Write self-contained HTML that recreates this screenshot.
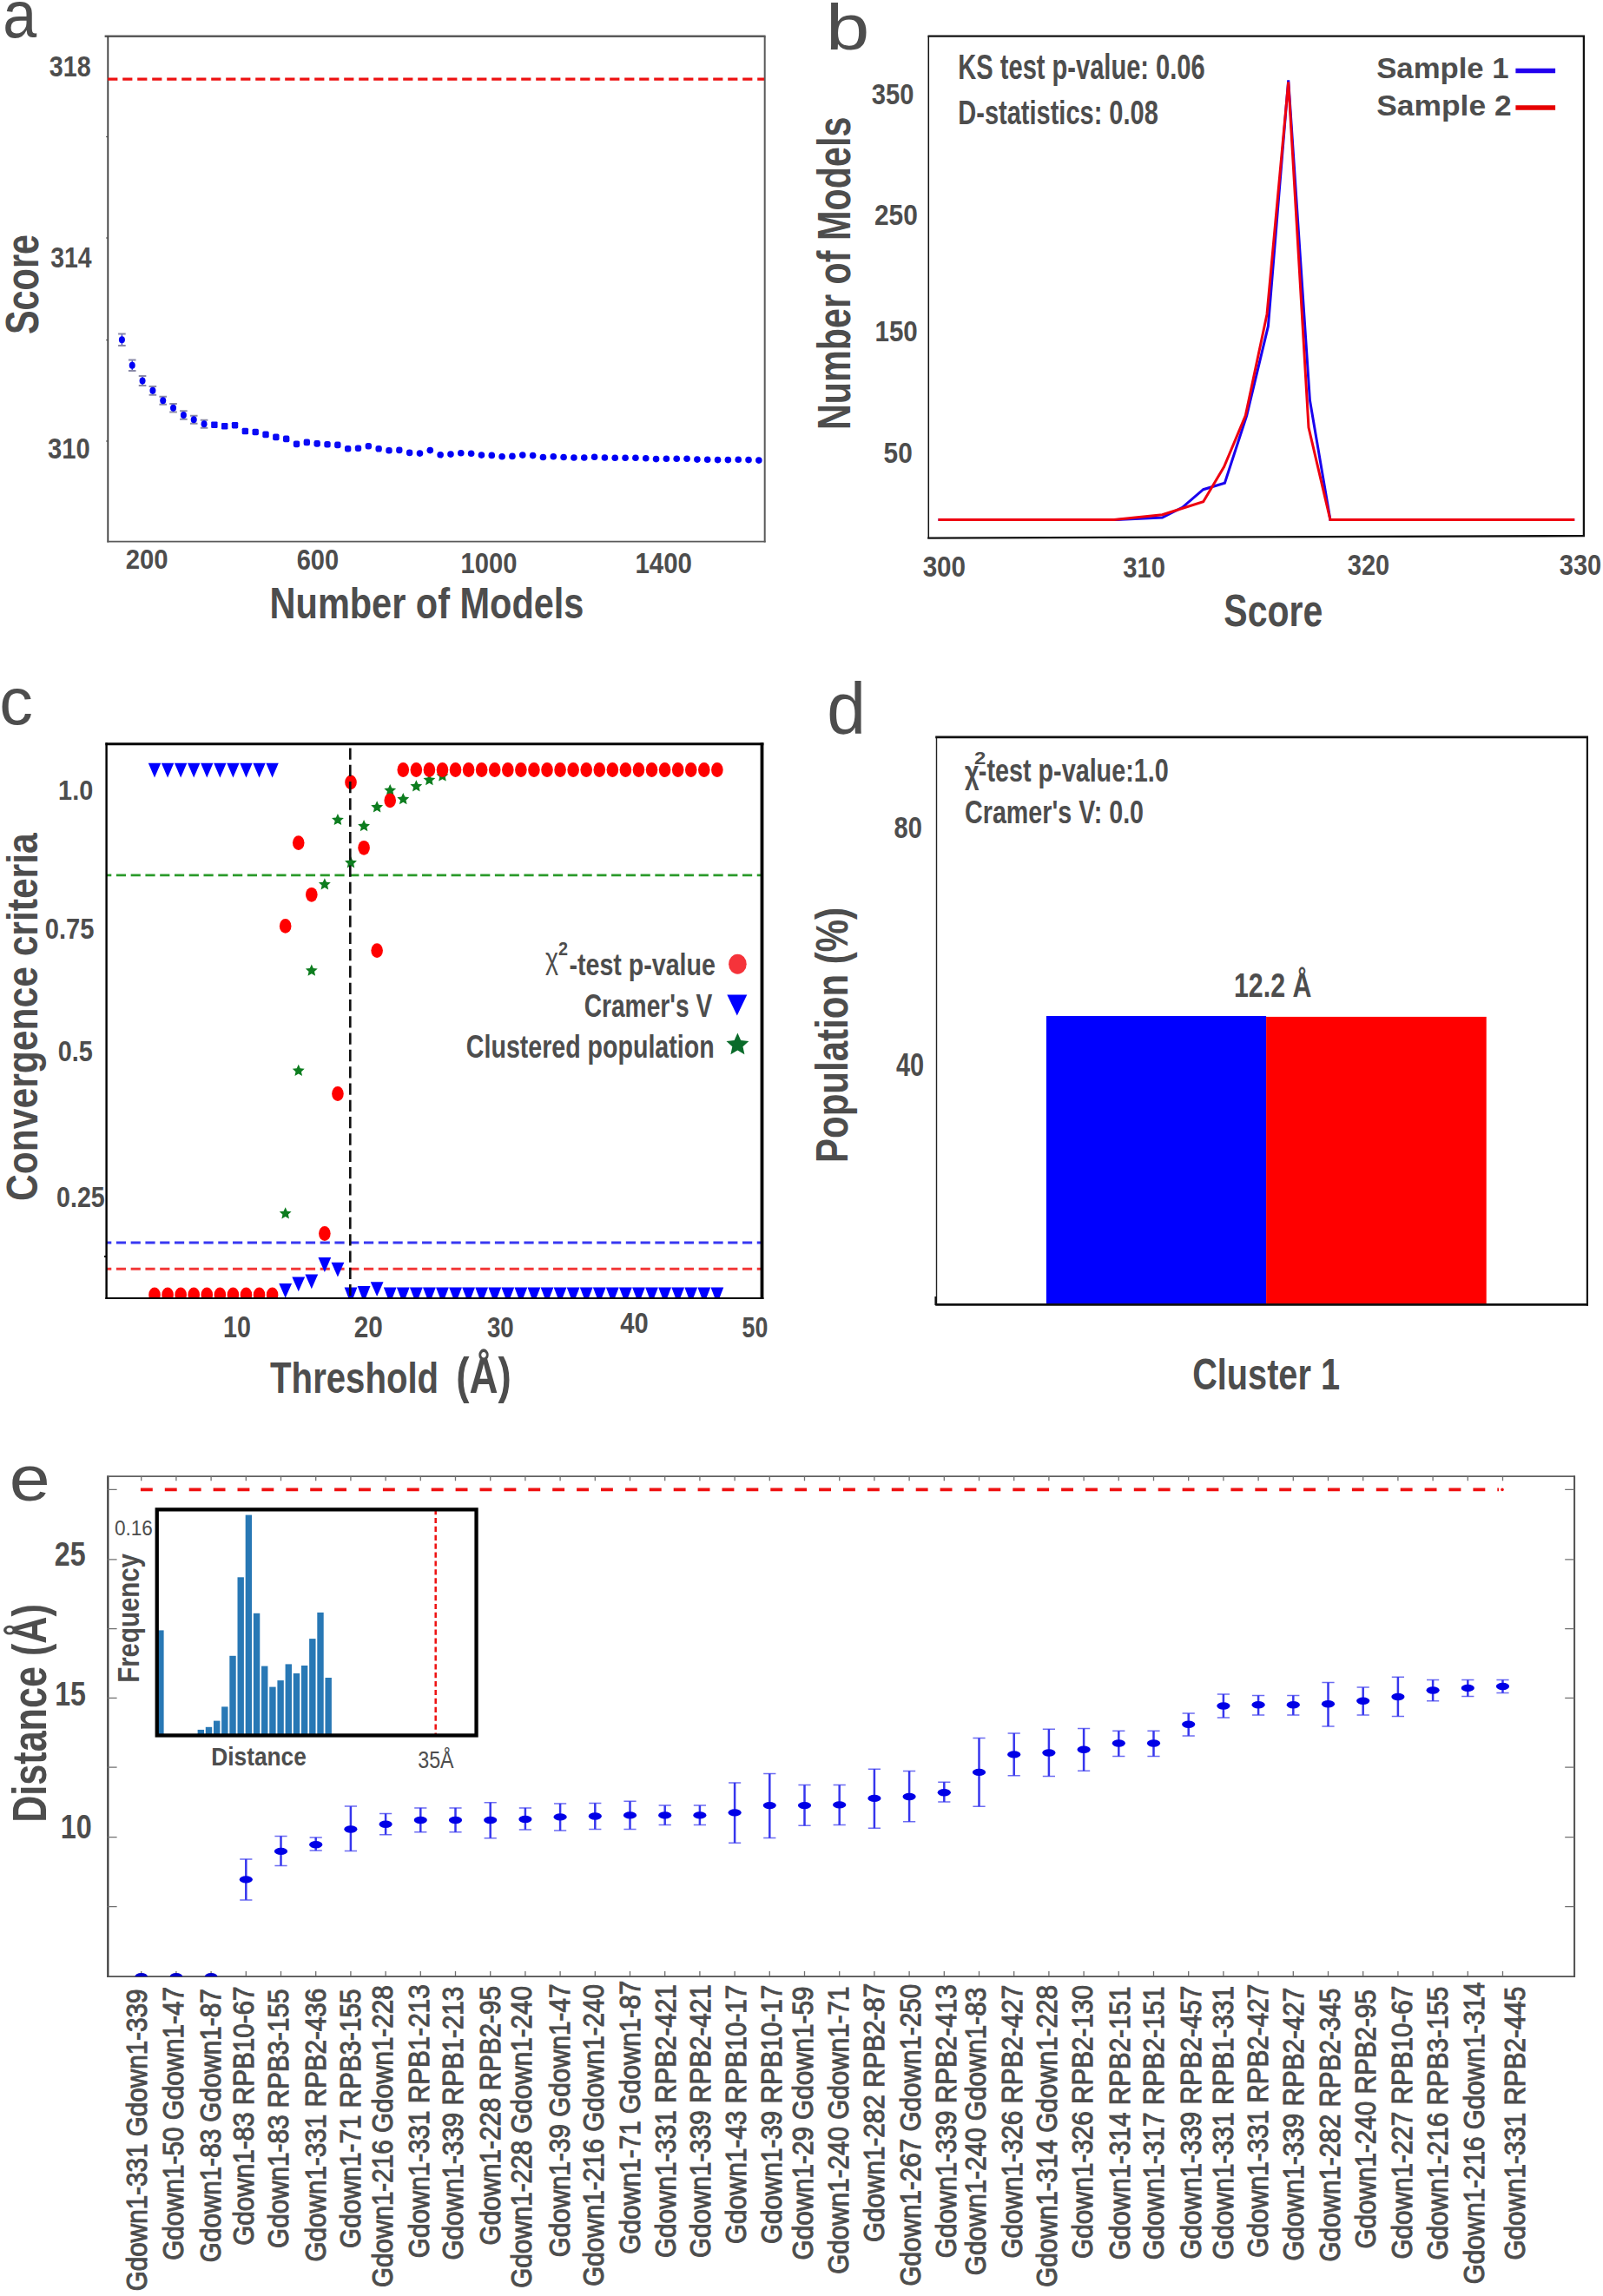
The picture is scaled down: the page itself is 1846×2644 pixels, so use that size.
<!DOCTYPE html>
<html><head><meta charset="utf-8"><title>Figure</title>
<style>
html,body{margin:0;padding:0;background:#fff;}
svg{display:block;}
text{font-family:"Liberation Sans",Arial,sans-serif;}
text.b{font-weight:bold;}
text.r{font-weight:normal;}
</style></head><body>
<svg width="1846" height="2644" viewBox="0 0 1846 2644">
<rect width="1846" height="2644" fill="#fff"/>
<g id="pa">
<line x1="120.6" y1="41.8" x2="881.6" y2="41.8" stroke="#5a5a5a" stroke-width="2.5"/>
<line x1="124.3" y1="41.8" x2="124.3" y2="624.4" stroke="#3a3a3a" stroke-width="1.8"/>
<line x1="123.4" y1="623.6" x2="881.6" y2="623.6" stroke="#5a5a5a" stroke-width="1.8"/>
<line x1="880.7" y1="41.8" x2="880.7" y2="624.4" stroke="#5a5a5a" stroke-width="2"/>
<line x1="122" y1="157.6" x2="124" y2="157.6" stroke="#505050" stroke-width="1"/>
<line x1="122" y1="274" x2="124" y2="274" stroke="#505050" stroke-width="1"/>
<line x1="122" y1="391.6" x2="124" y2="391.6" stroke="#505050" stroke-width="1"/>
<line x1="122" y1="508" x2="124" y2="508" stroke="#505050" stroke-width="1"/>
<line x1="124.2" y1="91.1" x2="880" y2="91.1" stroke="#ee1111" stroke-width="3.4" stroke-dasharray="11.2 5.8"/>
<path d="M140.4 384.4V398" stroke="#3a3ad8" stroke-width="1.4" fill="none"/>
<path d="M136.1 384.4h8.6M136.1 398h8.6" stroke="#8a8aa8" stroke-width="2" fill="none"/>
<ellipse cx="140.4" cy="391.2" rx="3.5" ry="4" fill="#0000f5"/>
<path d="M152.23 414.6V427" stroke="#3a3ad8" stroke-width="1.4" fill="none"/>
<path d="M147.93 414.6h8.6M147.93 427h8.6" stroke="#8a8aa8" stroke-width="2" fill="none"/>
<ellipse cx="152.23" cy="420.8" rx="3.5" ry="4" fill="#0000f5"/>
<path d="M164.06 433.1V444.1" stroke="#3a3ad8" stroke-width="1.4" fill="none"/>
<path d="M159.76 433.1h8.6M159.76 444.1h8.6" stroke="#8a8aa8" stroke-width="2" fill="none"/>
<ellipse cx="164.06" cy="438.6" rx="3.5" ry="4" fill="#0000f5"/>
<path d="M175.89 444.9V454.7" stroke="#3a3ad8" stroke-width="1.4" fill="none"/>
<path d="M171.59 444.9h8.6M171.59 454.7h8.6" stroke="#8a8aa8" stroke-width="2" fill="none"/>
<ellipse cx="175.89" cy="449.8" rx="3.5" ry="4" fill="#0000f5"/>
<path d="M187.72 456.8V465.8" stroke="#3a3ad8" stroke-width="1.4" fill="none"/>
<path d="M183.42 456.8h8.6M183.42 465.8h8.6" stroke="#8a8aa8" stroke-width="2" fill="none"/>
<ellipse cx="187.72" cy="461.3" rx="3.5" ry="4" fill="#0000f5"/>
<path d="M199.55 465.1V474.5" stroke="#3a3ad8" stroke-width="1.4" fill="none"/>
<path d="M195.25 465.1h8.6M195.25 474.5h8.6" stroke="#8a8aa8" stroke-width="2" fill="none"/>
<ellipse cx="199.55" cy="469.8" rx="3.5" ry="4" fill="#0000f5"/>
<path d="M211.38 473.3V482.7" stroke="#3a3ad8" stroke-width="1.4" fill="none"/>
<path d="M207.08 473.3h8.6M207.08 482.7h8.6" stroke="#8a8aa8" stroke-width="2" fill="none"/>
<ellipse cx="211.38" cy="478" rx="3.5" ry="4" fill="#0000f5"/>
<path d="M223.21 478.7V487.7" stroke="#3a3ad8" stroke-width="1.4" fill="none"/>
<path d="M218.91 478.7h8.6M218.91 487.7h8.6" stroke="#8a8aa8" stroke-width="2" fill="none"/>
<ellipse cx="223.21" cy="483.2" rx="3.5" ry="4" fill="#0000f5"/>
<path d="M235.04 483.7V492.7" stroke="#3a3ad8" stroke-width="1.4" fill="none"/>
<path d="M230.74 483.7h8.6M230.74 492.7h8.6" stroke="#8a8aa8" stroke-width="2" fill="none"/>
<ellipse cx="235.04" cy="488.2" rx="3.5" ry="4" fill="#0000f5"/>
<rect x="243.17" y="485.4" width="7.4" height="7.6" rx="1.2" fill="#0a0af5"/>
<rect x="255" y="486.9" width="7.4" height="7.6" rx="1.32" fill="#0a0af5"/>
<rect x="266.83" y="485.9" width="7.4" height="7.6" rx="1.44" fill="#0a0af5"/>
<rect x="278.66" y="492.7" width="7.4" height="7.6" rx="1.56" fill="#0a0af5"/>
<rect x="290.49" y="493.7" width="7.4" height="7.6" rx="1.68" fill="#0a0af5"/>
<rect x="302.32" y="496.6" width="7.4" height="7.6" rx="1.8" fill="#0a0af5"/>
<rect x="314.15" y="499.6" width="7.4" height="7.6" rx="1.92" fill="#0a0af5"/>
<rect x="325.98" y="501.6" width="7.4" height="7.6" rx="2.04" fill="#0a0af5"/>
<rect x="337.81" y="507.6" width="7.4" height="7.6" rx="2.16" fill="#0a0af5"/>
<rect x="349.64" y="505.6" width="7.4" height="7.6" rx="2.28" fill="#0a0af5"/>
<rect x="361.47" y="507.1" width="7.4" height="7.6" rx="2.4" fill="#0a0af5"/>
<rect x="373.3" y="507.9" width="7.4" height="7.6" rx="2.52" fill="#0a0af5"/>
<rect x="385.13" y="508.6" width="7.4" height="7.6" rx="2.64" fill="#0a0af5"/>
<rect x="396.96" y="512.9" width="7.4" height="7.6" rx="2.76" fill="#0a0af5"/>
<rect x="408.79" y="512.4" width="7.4" height="7.6" rx="2.88" fill="#0a0af5"/>
<rect x="420.62" y="509.9" width="7.4" height="7.6" rx="3" fill="#0a0af5"/>
<rect x="432.45" y="512.9" width="7.4" height="7.6" rx="3.12" fill="#0a0af5"/>
<rect x="444.28" y="514.9" width="7.4" height="7.6" rx="3.24" fill="#0a0af5"/>
<rect x="456.11" y="514.6" width="7.4" height="7.6" rx="3.36" fill="#0a0af5"/>
<rect x="467.94" y="517.6" width="7.4" height="7.6" rx="3.48" fill="#0a0af5"/>
<circle cx="483.47" cy="522.1" r="3.8" fill="#0000f5"/>
<circle cx="495.3" cy="518.6" r="3.8" fill="#0000f5"/>
<circle cx="507.13" cy="523.8" r="3.8" fill="#0000f5"/>
<circle cx="518.96" cy="523.1" r="3.8" fill="#0000f5"/>
<circle cx="530.79" cy="521.7" r="3.8" fill="#0000f5"/>
<circle cx="542.62" cy="522.3" r="3.8" fill="#0000f5"/>
<circle cx="554.45" cy="524.1" r="3.8" fill="#0000f5"/>
<circle cx="566.28" cy="524.4" r="3.8" fill="#0000f5"/>
<circle cx="578.11" cy="525.7" r="3.8" fill="#0000f5"/>
<circle cx="589.94" cy="525.4" r="3.8" fill="#0000f5"/>
<circle cx="601.77" cy="524.1" r="3.8" fill="#0000f5"/>
<circle cx="613.6" cy="524.6" r="3.8" fill="#0000f5"/>
<circle cx="625.43" cy="526.5" r="3.8" fill="#0000f5"/>
<circle cx="637.26" cy="525.7" r="3.8" fill="#0000f5"/>
<circle cx="649.09" cy="526.5" r="3.8" fill="#0000f5"/>
<circle cx="660.92" cy="527" r="3.8" fill="#0000f5"/>
<circle cx="672.75" cy="527" r="3.8" fill="#0000f5"/>
<circle cx="684.58" cy="526.2" r="3.8" fill="#0000f5"/>
<circle cx="696.41" cy="527" r="3.8" fill="#0000f5"/>
<circle cx="708.24" cy="527.2" r="3.8" fill="#0000f5"/>
<circle cx="720.07" cy="527.2" r="3.8" fill="#0000f5"/>
<circle cx="731.9" cy="527.2" r="3.8" fill="#0000f5"/>
<circle cx="743.73" cy="527.8" r="3.8" fill="#0000f5"/>
<circle cx="755.56" cy="528.6" r="3.8" fill="#0000f5"/>
<circle cx="767.39" cy="528.3" r="3.8" fill="#0000f5"/>
<circle cx="779.22" cy="528.3" r="3.8" fill="#0000f5"/>
<circle cx="791.05" cy="528.3" r="3.8" fill="#0000f5"/>
<circle cx="802.88" cy="529.1" r="3.8" fill="#0000f5"/>
<circle cx="814.71" cy="529.3" r="3.8" fill="#0000f5"/>
<circle cx="826.54" cy="529.6" r="3.8" fill="#0000f5"/>
<circle cx="838.37" cy="529.6" r="3.8" fill="#0000f5"/>
<circle cx="850.2" cy="529.3" r="3.8" fill="#0000f5"/>
<circle cx="862.03" cy="529.6" r="3.8" fill="#0000f5"/>
<circle cx="873.86" cy="530.1" r="3.8" fill="#0000f5"/>
<text class="r" transform="translate(3.22,43.45) scale(0.9309,1)" font-size="75.25" fill="#4d4d4d">a</text>
<text class="b" transform="translate(56.85,88.4) scale(0.8473,1)" font-size="33.84" fill="#4d4d4d">318</text>
<text class="b" transform="translate(58.16,308) scale(0.8398,1)" font-size="33.84" fill="#4d4d4d">314</text>
<text class="b" transform="translate(55.04,527.6) scale(0.8618,1)" font-size="33.84" fill="#4d4d4d">310</text>
<text class="b" transform="translate(44.4,385.04) rotate(-90) scale(0.7619,1)" font-size="54.34" fill="#4d4d4d">Score</text>
<text class="b" transform="translate(144.67,655) scale(0.9091,1)" font-size="32.26" fill="#4d4d4d">200</text>
<text class="b" transform="translate(341.71,656.2) scale(0.8812,1)" font-size="32.97" fill="#4d4d4d">600</text>
<text class="b" transform="translate(530.58,660.4) scale(0.8893,1)" font-size="32.83" fill="#4d4d4d">1000</text>
<text class="b" transform="translate(731.46,660.4) scale(0.8965,1)" font-size="32.83" fill="#4d4d4d">1400</text>
<text class="b" transform="translate(310.6,711.8) scale(0.8220,1)" font-size="50.48" fill="#4d4d4d">Number of Models</text>
</g>
<g id="pb">
<path d="M1069.3 619.6V41.6" fill="none" stroke="#111" stroke-width="1.5"/>
<path d="M1068.5 41.6H1823.9V617.2" fill="none" stroke="#111" stroke-width="2.3" stroke-linejoin="miter"/>
<path d="M1068.2 619.6L1825 617.1" fill="none" stroke="#111" stroke-width="2.3"/>
<polyline points="1080.5,598.5 1286,598.5 1338.5,596 1361.6,584.3 1385.7,563.7 1410.4,556.3 1435.7,478.6 1460.4,375.7 1483.7,92.4 1508.4,460.8 1531.9,598.5 1813.2,598.5" fill="none" stroke="#1a00ee" stroke-width="3" stroke-linejoin="miter"/>
<polyline points="1080.5,598.5 1283,598.5 1338.5,592.8 1385.7,577.8 1409.6,537.6 1434.3,478.6 1459,362 1483.7,94.3 1507,492.3 1531.9,598.5 1813.2,598.5" fill="none" stroke="#ee0010" stroke-width="3" stroke-linejoin="miter"/>
<line x1="1745.4" y1="81.6" x2="1791.1" y2="81.6" stroke="#2200ee" stroke-width="5.5"/>
<line x1="1745.4" y1="124" x2="1791.1" y2="124" stroke="#e60000" stroke-width="5.5"/>
<text class="r" transform="translate(951.12,56.96) scale(1.2175,1)" font-size="74.29" fill="#4d4d4d">b</text>
<text class="b" transform="translate(1585.16,89.8) scale(1.0626,1)" font-size="32.69" fill="#4d4d4d">Sample 1</text>
<text class="b" transform="translate(1585.14,132.8) scale(1.0926,1)" font-size="32.41" fill="#4d4d4d">Sample 2</text>
<text class="b" transform="translate(1103.34,90.5) scale(0.7244,1)" font-size="40.14" fill="#4d4d4d">KS test p-value: 0.06</text>
<text class="b" transform="translate(1103.34,142.9) scale(0.7484,1)" font-size="38.76" fill="#4d4d4d">D-statistics: 0.08</text>
<text class="b" transform="translate(1003.74,120.2) scale(0.8618,1)" font-size="33.84" fill="#4d4d4d">350</text>
<text class="b" transform="translate(1006.95,259.3) scale(0.8986,1)" font-size="33.26" fill="#4d4d4d">250</text>
<text class="b" transform="translate(1007.45,392.7) scale(0.8707,1)" font-size="33.98" fill="#4d4d4d">150</text>
<text class="b" transform="translate(1017.61,532.9) scale(0.8810,1)" font-size="33.84" fill="#4d4d4d">50</text>
<text class="b" transform="translate(978.8,494.99) rotate(-90) scale(0.7684,1)" font-size="53.79" fill="#4d4d4d">Number of Models</text>
<text class="b" transform="translate(1062.63,663.9) scale(0.8840,1)" font-size="33.55" fill="#4d4d4d">300</text>
<text class="b" transform="translate(1293.34,664.9) scale(0.8748,1)" font-size="33.41" fill="#4d4d4d">310</text>
<text class="b" transform="translate(1551.85,661.6) scale(0.8527,1)" font-size="33.98" fill="#4d4d4d">320</text>
<text class="b" transform="translate(1795.85,661.6) scale(0.8527,1)" font-size="33.98" fill="#4d4d4d">330</text>
<text class="b" transform="translate(1409.37,720.8) scale(0.7899,1)" font-size="51.9" fill="#4d4d4d">Score</text>
</g>
<g id="pc">
<clipPath id="cc"><rect x="122.6" y="856.7" width="755" height="638.3"/></clipPath>
<g clip-path="url(#cc)">
<line x1="117.1" y1="1007.9" x2="877.5" y2="1007.9" stroke="#2a9a2a" stroke-width="2.6" stroke-dasharray="11.2 5.57"/>
<line x1="117.1" y1="1431" x2="877.5" y2="1431" stroke="#3838f2" stroke-width="2.9" stroke-dasharray="11.2 5.57"/>
<line x1="117.1" y1="1461.2" x2="877.5" y2="1461.2" stroke="#f23838" stroke-width="2.9" stroke-dasharray="11.2 5.57"/>
<polygon points="328.67,1390.2 330.69,1394.72 335.61,1395.24 331.93,1398.56 332.96,1403.41 328.67,1400.93 324.38,1403.41 325.41,1398.56 321.73,1395.24 326.65,1394.72" fill="#0d7d1f"/>
<polygon points="343.74,1225.8 345.75,1230.32 350.68,1230.84 347,1234.16 348.03,1239.01 343.74,1236.53 339.45,1239.01 340.47,1234.16 336.79,1230.84 341.72,1230.32" fill="#0d7d1f"/>
<polygon points="358.8,1110.5 360.82,1115.02 365.75,1115.54 362.07,1118.86 363.09,1123.71 358.8,1121.23 354.51,1123.71 355.54,1118.86 351.86,1115.54 356.79,1115.02" fill="#0d7d1f"/>
<polygon points="373.87,1011.2 375.89,1015.72 380.81,1016.24 377.13,1019.56 378.16,1024.41 373.87,1021.93 369.58,1024.41 370.61,1019.56 366.93,1016.24 371.85,1015.72" fill="#0d7d1f"/>
<polygon points="388.94,936.9 390.95,941.42 395.88,941.94 392.2,945.26 393.23,950.11 388.94,947.63 384.65,950.11 385.67,945.26 382,941.94 386.92,941.42" fill="#0d7d1f"/>
<polygon points="404,986.3 406.02,990.82 410.95,991.34 407.27,994.66 408.3,999.51 404,997.03 399.71,999.51 400.74,994.66 397.06,991.34 401.99,990.82" fill="#0d7d1f"/>
<polygon points="419.07,944.1 421.09,948.62 426.01,949.14 422.34,952.46 423.36,957.31 419.07,954.83 414.78,957.31 415.81,952.46 412.13,949.14 417.06,948.62" fill="#0d7d1f"/>
<polygon points="434.14,922.3 436.16,926.82 441.08,927.34 437.4,930.66 438.43,935.51 434.14,933.03 429.85,935.51 430.88,930.66 427.2,927.34 432.12,926.82" fill="#0d7d1f"/>
<polygon points="449.21,903 451.22,907.52 456.15,908.04 452.47,911.36 453.5,916.21 449.21,913.73 444.92,916.21 445.94,911.36 442.26,908.04 447.19,907.52" fill="#0d7d1f"/>
<polygon points="464.27,913.1 466.29,917.62 471.22,918.14 467.54,921.46 468.56,926.31 464.27,923.83 459.98,926.31 461.01,921.46 457.33,918.14 462.26,917.62" fill="#0d7d1f"/>
<polygon points="479.34,898.2 481.36,902.72 486.28,903.24 482.6,906.56 483.63,911.41 479.34,908.93 475.05,911.41 476.08,906.56 472.4,903.24 477.32,902.72" fill="#0d7d1f"/>
<polygon points="494.41,891 496.42,895.52 501.35,896.04 497.67,899.36 498.7,904.21 494.41,901.73 490.12,904.21 491.14,899.36 487.46,896.04 492.39,895.52" fill="#0d7d1f"/>
<polygon points="509.47,886.4 511.49,890.92 516.42,891.44 512.74,894.76 513.76,899.61 509.47,897.13 505.18,899.61 506.21,894.76 502.53,891.44 507.46,890.92" fill="#0d7d1f"/>
<ellipse cx="178" cy="1490.9" rx="6.8" ry="8.4" fill="#ff0000"/>
<ellipse cx="193.07" cy="1490.9" rx="6.8" ry="8.4" fill="#ff0000"/>
<ellipse cx="208.13" cy="1490.9" rx="6.8" ry="8.4" fill="#ff0000"/>
<ellipse cx="223.2" cy="1490.9" rx="6.8" ry="8.4" fill="#ff0000"/>
<ellipse cx="238.27" cy="1490.9" rx="6.8" ry="8.4" fill="#ff0000"/>
<ellipse cx="253.34" cy="1490.9" rx="6.8" ry="8.4" fill="#ff0000"/>
<ellipse cx="268.4" cy="1490.9" rx="6.8" ry="8.4" fill="#ff0000"/>
<ellipse cx="283.47" cy="1490.9" rx="6.8" ry="8.4" fill="#ff0000"/>
<ellipse cx="298.54" cy="1490.9" rx="6.8" ry="8.4" fill="#ff0000"/>
<ellipse cx="313.6" cy="1490.9" rx="6.8" ry="8.4" fill="#ff0000"/>
<ellipse cx="328.67" cy="1066.4" rx="6.8" ry="8.4" fill="#ff0000"/>
<ellipse cx="343.74" cy="970.6" rx="6.8" ry="8.4" fill="#ff0000"/>
<ellipse cx="358.8" cy="1030.3" rx="6.8" ry="8.4" fill="#ff0000"/>
<ellipse cx="373.87" cy="1420.5" rx="6.8" ry="8.4" fill="#ff0000"/>
<ellipse cx="388.94" cy="1259.5" rx="6.8" ry="8.4" fill="#ff0000"/>
<ellipse cx="404" cy="900.9" rx="6.8" ry="8.4" fill="#ff0000"/>
<ellipse cx="419.07" cy="976.3" rx="6.8" ry="8.4" fill="#ff0000"/>
<ellipse cx="434.14" cy="1094.6" rx="6.8" ry="8.4" fill="#ff0000"/>
<ellipse cx="449.21" cy="921.8" rx="6.8" ry="8.4" fill="#ff0000"/>
<ellipse cx="464.27" cy="886.5" rx="6.8" ry="8.4" fill="#ff0000"/>
<ellipse cx="479.34" cy="886.5" rx="6.8" ry="8.4" fill="#ff0000"/>
<ellipse cx="494.41" cy="886.5" rx="6.8" ry="8.4" fill="#ff0000"/>
<ellipse cx="509.47" cy="886.5" rx="6.8" ry="8.4" fill="#ff0000"/>
<ellipse cx="524.54" cy="886.5" rx="6.8" ry="8.4" fill="#ff0000"/>
<ellipse cx="539.61" cy="886.5" rx="6.8" ry="8.4" fill="#ff0000"/>
<ellipse cx="554.67" cy="886.5" rx="6.8" ry="8.4" fill="#ff0000"/>
<ellipse cx="569.74" cy="886.5" rx="6.8" ry="8.4" fill="#ff0000"/>
<ellipse cx="584.81" cy="886.5" rx="6.8" ry="8.4" fill="#ff0000"/>
<ellipse cx="599.88" cy="886.5" rx="6.8" ry="8.4" fill="#ff0000"/>
<ellipse cx="614.94" cy="886.5" rx="6.8" ry="8.4" fill="#ff0000"/>
<ellipse cx="630.01" cy="886.5" rx="6.8" ry="8.4" fill="#ff0000"/>
<ellipse cx="645.08" cy="886.5" rx="6.8" ry="8.4" fill="#ff0000"/>
<ellipse cx="660.14" cy="886.5" rx="6.8" ry="8.4" fill="#ff0000"/>
<ellipse cx="675.21" cy="886.5" rx="6.8" ry="8.4" fill="#ff0000"/>
<ellipse cx="690.28" cy="886.5" rx="6.8" ry="8.4" fill="#ff0000"/>
<ellipse cx="705.35" cy="886.5" rx="6.8" ry="8.4" fill="#ff0000"/>
<ellipse cx="720.41" cy="886.5" rx="6.8" ry="8.4" fill="#ff0000"/>
<ellipse cx="735.48" cy="886.5" rx="6.8" ry="8.4" fill="#ff0000"/>
<ellipse cx="750.55" cy="886.5" rx="6.8" ry="8.4" fill="#ff0000"/>
<ellipse cx="765.61" cy="886.5" rx="6.8" ry="8.4" fill="#ff0000"/>
<ellipse cx="780.68" cy="886.5" rx="6.8" ry="8.4" fill="#ff0000"/>
<ellipse cx="795.75" cy="886.5" rx="6.8" ry="8.4" fill="#ff0000"/>
<ellipse cx="810.81" cy="886.5" rx="6.8" ry="8.4" fill="#ff0000"/>
<ellipse cx="825.88" cy="886.5" rx="6.8" ry="8.4" fill="#ff0000"/>
<path d="M170.8 878.8h14.4l-7.2 16.6z" fill="#0000ff"/>
<path d="M185.87 878.8h14.4l-7.2 16.6z" fill="#0000ff"/>
<path d="M200.93 878.8h14.4l-7.2 16.6z" fill="#0000ff"/>
<path d="M216 878.8h14.4l-7.2 16.6z" fill="#0000ff"/>
<path d="M231.07 878.8h14.4l-7.2 16.6z" fill="#0000ff"/>
<path d="M246.14 878.8h14.4l-7.2 16.6z" fill="#0000ff"/>
<path d="M261.2 878.8h14.4l-7.2 16.6z" fill="#0000ff"/>
<path d="M276.27 878.8h14.4l-7.2 16.6z" fill="#0000ff"/>
<path d="M291.34 878.8h14.4l-7.2 16.6z" fill="#0000ff"/>
<path d="M306.4 878.8h14.4l-7.2 16.6z" fill="#0000ff"/>
<path d="M321.27 1478h14.8l-7.4 16.8z" fill="#0000ff"/>
<path d="M336.34 1470.5h14.8l-7.4 16.8z" fill="#0000ff"/>
<path d="M351.4 1467.4h14.8l-7.4 16.8z" fill="#0000ff"/>
<path d="M366.47 1448.1h14.8l-7.4 16.8z" fill="#0000ff"/>
<path d="M381.54 1453.7h14.8l-7.4 16.8z" fill="#0000ff"/>
<path d="M396.61 1482.6h14.8l-7.4 19z" fill="#0000ff"/>
<path d="M411.67 1481h14.8l-7.4 19z" fill="#0000ff"/>
<path d="M426.74 1476.3h14.8l-7.4 16.8z" fill="#0000ff"/>
<path d="M441.81 1482.6h14.8l-7.4 19z" fill="#0000ff"/>
<path d="M456.87 1482.6h14.8l-7.4 19z" fill="#0000ff"/>
<path d="M471.94 1482.6h14.8l-7.4 19z" fill="#0000ff"/>
<path d="M487.01 1482.6h14.8l-7.4 19z" fill="#0000ff"/>
<path d="M502.07 1482.6h14.8l-7.4 19z" fill="#0000ff"/>
<path d="M517.14 1482.6h14.8l-7.4 19z" fill="#0000ff"/>
<path d="M532.21 1482.6h14.8l-7.4 19z" fill="#0000ff"/>
<path d="M547.27 1482.6h14.8l-7.4 19z" fill="#0000ff"/>
<path d="M562.34 1482.6h14.8l-7.4 19z" fill="#0000ff"/>
<path d="M577.41 1482.6h14.8l-7.4 19z" fill="#0000ff"/>
<path d="M592.48 1482.6h14.8l-7.4 19z" fill="#0000ff"/>
<path d="M607.54 1482.6h14.8l-7.4 19z" fill="#0000ff"/>
<path d="M622.61 1482.6h14.8l-7.4 19z" fill="#0000ff"/>
<path d="M637.68 1482.6h14.8l-7.4 19z" fill="#0000ff"/>
<path d="M652.74 1482.6h14.8l-7.4 19z" fill="#0000ff"/>
<path d="M667.81 1482.6h14.8l-7.4 19z" fill="#0000ff"/>
<path d="M682.88 1482.6h14.8l-7.4 19z" fill="#0000ff"/>
<path d="M697.95 1482.6h14.8l-7.4 19z" fill="#0000ff"/>
<path d="M713.01 1482.6h14.8l-7.4 19z" fill="#0000ff"/>
<path d="M728.08 1482.6h14.8l-7.4 19z" fill="#0000ff"/>
<path d="M743.15 1482.6h14.8l-7.4 19z" fill="#0000ff"/>
<path d="M758.21 1482.6h14.8l-7.4 19z" fill="#0000ff"/>
<path d="M773.28 1482.6h14.8l-7.4 19z" fill="#0000ff"/>
<path d="M788.35 1482.6h14.8l-7.4 19z" fill="#0000ff"/>
<path d="M803.41 1482.6h14.8l-7.4 19z" fill="#0000ff"/>
<path d="M818.48 1482.6h14.8l-7.4 19z" fill="#0000ff"/>
<line x1="403.3" y1="861.45" x2="403.3" y2="1495" stroke="#111" stroke-width="2.6" stroke-dasharray="13.3 6"/>
</g>
<line x1="122.6" y1="855.3" x2="122.6" y2="1496" stroke="#000" stroke-width="2.4"/>
<line x1="121.4" y1="1495" x2="879.4" y2="1495" stroke="#000" stroke-width="2"/>
<line x1="121.4" y1="856.8" x2="879.4" y2="856.8" stroke="#000" stroke-width="3"/>
<line x1="877.5" y1="855.3" x2="877.5" y2="1496" stroke="#000" stroke-width="3.8"/>
<line x1="120" y1="1446.9" x2="122.6" y2="1446.9" stroke="#000" stroke-width="2"/>
<ellipse cx="849.4" cy="1110.2" rx="10.3" ry="11.5" fill="#f5333a"/>
<path d="M837.3 1145.5h23l-11.5 24z" fill="#0000ff"/>
<polygon points="849.4,1189.6 853.16,1198.03 862.33,1199 855.48,1205.18 857.39,1214.2 849.4,1209.59 841.41,1214.2 843.32,1205.18 836.47,1199 845.64,1198.03" fill="#0a6b2a"/>
<text class="r" transform="translate(-0.68,833.93) scale(1.0041,1)" font-size="76.89" fill="#4d4d4d">c</text>
<text class="b" transform="translate(67.1,920.8) scale(0.9054,1)" font-size="31.83" fill="#4d4d4d">1.0</text>
<text class="b" transform="translate(51.83,1080.8) scale(0.8759,1)" font-size="33.26" fill="#4d4d4d">0.75</text>
<text class="b" transform="translate(66.75,1222.2) scale(0.8661,1)" font-size="33.26" fill="#4d4d4d">0.5</text>
<text class="b" transform="translate(65.06,1389.5) scale(0.8599,1)" font-size="33.26" fill="#4d4d4d">0.25</text>
<text class="b" transform="translate(43,1382.9) rotate(-90) scale(0.8650,1)" font-size="49.24" fill="#4d4d4d">Convergence criteria</text>
<text class="b" transform="translate(257.11,1540) scale(0.8337,1)" font-size="34.41" fill="#4d4d4d">10</text>
<text class="b" transform="translate(407.66,1540) scale(0.8649,1)" font-size="34.41" fill="#4d4d4d">20</text>
<text class="b" transform="translate(560.88,1539.5) scale(0.8217,1)" font-size="33.69" fill="#4d4d4d">30</text>
<text class="b" transform="translate(714.36,1535.4) scale(0.8637,1)" font-size="33.69" fill="#4d4d4d">40</text>
<text class="b" transform="translate(854.6,1539.7) scale(0.7934,1)" font-size="33.69" fill="#4d4d4d">50</text>
<text class="b" transform="translate(311.1,1604.2) scale(0.7953,1)" font-size="50.48" fill="#4d4d4d">Threshold</text>
<text class="b" transform="translate(525.21,1603.7) scale(0.8042,1)" font-size="56.88" fill="#4d4d4d">(Å)</text>
<text class="r" transform="translate(628.11,1116.37) scale(0.8114,1)" font-size="35.32" fill="#4d4d4d">χ</text>
<text class="b" transform="translate(642.91,1100.2) scale(0.8737,1)" font-size="22.65" fill="#4d4d4d">2</text>
<text class="b" transform="translate(655.46,1122.6) scale(0.8197,1)" font-size="34.9" fill="#4d4d4d">-test p-value</text>
<text class="b" transform="translate(672.67,1170.5) scale(0.7440,1)" font-size="37.85" fill="#4d4d4d">Cramer's V</text>
<text class="b" transform="translate(536.86,1217.8) scale(0.7762,1)" font-size="36.83" fill="#4d4d4d">Clustered population</text>
</g>
<g id="pd">
<rect x="1204.9" y="1170" width="253.2" height="332" fill="#0000ff"/>
<rect x="1458.1" y="1170.9" width="253.6" height="331.3" fill="#ff0000"/>
<line x1="1078.5" y1="848.9" x2="1078.5" y2="1503" stroke="#222" stroke-width="1.4"/>
<line x1="1077.2" y1="848.9" x2="1829" y2="848.9" stroke="#111" stroke-width="2.8"/>
<line x1="1827.9" y1="848.9" x2="1827.9" y2="1503.5" stroke="#111" stroke-width="2.2"/>
<line x1="1077.2" y1="1502.4" x2="1829" y2="1502.4" stroke="#111" stroke-width="2.8"/>
<line x1="1077.6" y1="1493" x2="1077.6" y2="1503" stroke="#111" stroke-width="2.4"/>
<text class="r" transform="translate(952.18,844.97) scale(0.9645,1)" font-size="83.4" fill="#4d4d4d">d</text>
<text class="b" transform="translate(1111.09,901.55) scale(0.7866,1)" font-size="36.39" fill="#4d4d4d">χ</text>
<text class="b" transform="translate(1121.96,880.4) scale(1.1686,1)" font-size="20.5" fill="#4d4d4d">2</text>
<text class="b" transform="translate(1126.85,899.9) scale(0.7837,1)" font-size="36.69" fill="#4d4d4d">-test p-value:1.0</text>
<text class="b" transform="translate(1111.05,947.9) scale(0.7725,1)" font-size="37.13" fill="#4d4d4d">Cramer's V: 0.0</text>
<text class="b" transform="translate(1029.45,965.1) scale(0.8321,1)" font-size="34.98" fill="#4d4d4d">80</text>
<text class="b" transform="translate(1031.97,1238.7) scale(0.7816,1)" font-size="36.99" fill="#4d4d4d">40</text>
<text class="b" transform="translate(975.7,1339.04) rotate(-90) scale(0.8148,1)" font-size="51.59" fill="#4d4d4d">Population (%)</text>
<text class="b" transform="translate(1421,1147.8) scale(0.7784,1)" font-size="38.98" fill="#4d4d4d">12.2 Å</text>
<text class="b" transform="translate(1373.21,1599.5) scale(0.7815,1)" font-size="50.76" fill="#4d4d4d">Cluster 1</text>
</g>
<g id="pe">
<line x1="124.3" y1="1699.4" x2="124.3" y2="2277" stroke="#3a3a3a" stroke-width="2.2"/>
<line x1="123.2" y1="1700.2" x2="1814" y2="1700.2" stroke="#606060" stroke-width="1.7"/>
<line x1="123.2" y1="2276.2" x2="1814" y2="2276.2" stroke="#505050" stroke-width="1.8"/>
<line x1="1813.1" y1="1699.4" x2="1813.1" y2="2277" stroke="#505050" stroke-width="2"/>
<path d="M162.7 1700.3v5M162.7 2276.1v-6M202.9 1700.3v5M202.9 2276.1v-6M243.1 1700.3v5M243.1 2276.1v-6M283.3 1700.3v5M283.3 2276.1v-6M323.5 1700.3v5M323.5 2276.1v-6M363.7 1700.3v5M363.7 2276.1v-6M403.9 1700.3v5M403.9 2276.1v-6M444.1 1700.3v5M444.1 2276.1v-6M484.3 1700.3v5M484.3 2276.1v-6M524.5 1700.3v5M524.5 2276.1v-6M564.7 1700.3v5M564.7 2276.1v-6M604.9 1700.3v5M604.9 2276.1v-6M645.1 1700.3v5M645.1 2276.1v-6M685.3 1700.3v5M685.3 2276.1v-6M725.5 1700.3v5M725.5 2276.1v-6M765.7 1700.3v5M765.7 2276.1v-6M805.9 1700.3v5M805.9 2276.1v-6M846.1 1700.3v5M846.1 2276.1v-6M886.3 1700.3v5M886.3 2276.1v-6M926.5 1700.3v5M926.5 2276.1v-6M966.7 1700.3v5M966.7 2276.1v-6M1006.9 1700.3v5M1006.9 2276.1v-6M1047.1 1700.3v5M1047.1 2276.1v-6M1087.3 1700.3v5M1087.3 2276.1v-6M1127.5 1700.3v5M1127.5 2276.1v-6M1167.7 1700.3v5M1167.7 2276.1v-6M1207.9 1700.3v5M1207.9 2276.1v-6M1248.1 1700.3v5M1248.1 2276.1v-6M1288.3 1700.3v5M1288.3 2276.1v-6M1328.5 1700.3v5M1328.5 2276.1v-6M1368.7 1700.3v5M1368.7 2276.1v-6M1408.9 1700.3v5M1408.9 2276.1v-6M1449.1 1700.3v5M1449.1 2276.1v-6M1489.3 1700.3v5M1489.3 2276.1v-6M1529.5 1700.3v5M1529.5 2276.1v-6M1569.7 1700.3v5M1569.7 2276.1v-6M1609.9 1700.3v5M1609.9 2276.1v-6M1650.1 1700.3v5M1650.1 2276.1v-6M1690.3 1700.3v5M1690.3 2276.1v-6M1730.5 1700.3v5M1730.5 2276.1v-6M123.6 1715.4h11M1813.2 1715.4h-11M123.6 1795.8h11M1813.2 1795.8h-11M123.6 1875.6h11M1813.2 1875.6h-11M123.6 1955.4h11M1813.2 1955.4h-11M123.6 2035.1h11M1813.2 2035.1h-11M123.6 2115.6h11M1813.2 2115.6h-11M123.6 2195.6h11M1813.2 2195.6h-11" stroke="#707070" stroke-width="1.3" fill="none"/>
<path d="M161.9 1715.4H1726" stroke="#ee1111" stroke-width="3.9" stroke-dasharray="13.9 14" fill="none"/>
<circle cx="1730" cy="1715.4" r="1.8" fill="#ee1111"/>
<rect x="181" y="1877.4" width="7.6" height="121" fill="#2878b5"/>
<rect x="227.6" y="1991.9" width="7.4" height="6.6" fill="#2878b5"/>
<rect x="236.78" y="1988.8" width="7.4" height="9.7" fill="#2878b5"/>
<rect x="245.96" y="1981.6" width="7.4" height="16.9" fill="#2878b5"/>
<rect x="255.14" y="1965.4" width="7.4" height="33.1" fill="#2878b5"/>
<rect x="264.32" y="1906.8" width="7.4" height="91.7" fill="#2878b5"/>
<rect x="273.5" y="1816.3" width="7.4" height="182.2" fill="#2878b5"/>
<rect x="282.68" y="1744.6" width="7.4" height="253.9" fill="#2878b5"/>
<rect x="291.86" y="1857.8" width="7.4" height="140.7" fill="#2878b5"/>
<rect x="301.04" y="1918.6" width="7.4" height="79.9" fill="#2878b5"/>
<rect x="310.22" y="1942.6" width="7.4" height="55.9" fill="#2878b5"/>
<rect x="319.4" y="1935.1" width="7.4" height="63.4" fill="#2878b5"/>
<rect x="328.58" y="1916.4" width="7.4" height="82.1" fill="#2878b5"/>
<rect x="337.76" y="1927" width="7.4" height="71.5" fill="#2878b5"/>
<rect x="346.94" y="1918" width="7.4" height="80.5" fill="#2878b5"/>
<rect x="356.12" y="1887.1" width="7.4" height="111.4" fill="#2878b5"/>
<rect x="365.3" y="1856.9" width="7.4" height="141.6" fill="#2878b5"/>
<rect x="374.48" y="1932" width="7.4" height="66.5" fill="#2878b5"/>
<line x1="501.7" y1="1738" x2="501.7" y2="1998" stroke="#ee1111" stroke-width="2.5" stroke-dasharray="6.2 3.7"/>
<rect x="180.75" y="1738.35" width="367.8" height="260.1" fill="none" stroke="#000" stroke-width="4.3"/>
<text class="r" transform="translate(131.9,1768) scale(0.9329,1)" font-size="24.23" fill="#4d4d4d">0.16</text>
<text class="b" transform="translate(159.9,1937.79) rotate(-90) scale(0.8428,1)" font-size="34.91" fill="#4d4d4d">Frequency</text>
<text class="b" transform="translate(243.22,2032.5) scale(0.8996,1)" font-size="29.24" fill="#4d4d4d">Distance</text>
<text class="r" transform="translate(481.23,2035.6) scale(0.8255,1)" font-size="28.19" fill="#4d4d4d">35Å</text>
<clipPath id="ce"><rect x="100" y="1690" width="1740" height="586.1"/></clipPath>
<g clip-path="url(#ce)">
<ellipse cx="162.7" cy="2276.6" rx="7.4" ry="4.6" fill="#0000cc"/>
<ellipse cx="202.9" cy="2276.6" rx="7.4" ry="4.6" fill="#0000cc"/>
<ellipse cx="243.1" cy="2276.6" rx="7.4" ry="4.6" fill="#0000cc"/>
</g>
<path d="M276.2 2140.9h14.2M276.2 2187.9h14.2" stroke="#6c6cf2" stroke-width="1.5" fill="none"/>
<path d="M283.3 2140.9V2187.9" stroke="#3636ee" stroke-width="2.5" fill="none"/>
<ellipse cx="283.3" cy="2164.4" rx="7.6" ry="4.2" fill="#0000e6"/>
<path d="M316.4 2114.5h14.2M316.4 2148.5h14.2" stroke="#6c6cf2" stroke-width="1.5" fill="none"/>
<path d="M323.5 2114.5V2148.5" stroke="#3636ee" stroke-width="2.5" fill="none"/>
<ellipse cx="323.5" cy="2131.9" rx="7.6" ry="4.2" fill="#0000e6"/>
<path d="M356.6 2115.9h14.2M356.6 2131.1h14.2" stroke="#6c6cf2" stroke-width="1.5" fill="none"/>
<path d="M363.7 2115.9V2131.1" stroke="#3636ee" stroke-width="2.5" fill="none"/>
<ellipse cx="363.7" cy="2124.3" rx="7.6" ry="4.2" fill="#0000e6"/>
<path d="M396.8 2080.1h14.2M396.8 2131.5h14.2" stroke="#6c6cf2" stroke-width="1.5" fill="none"/>
<path d="M403.9 2080.1V2131.5" stroke="#3636ee" stroke-width="2.5" fill="none"/>
<ellipse cx="403.9" cy="2106.5" rx="7.6" ry="4.2" fill="#0000e6"/>
<path d="M437 2088.4h14.2M437 2112.7h14.2" stroke="#6c6cf2" stroke-width="1.5" fill="none"/>
<path d="M444.1 2088.4V2112.7" stroke="#3636ee" stroke-width="2.5" fill="none"/>
<ellipse cx="444.1" cy="2100.7" rx="7.6" ry="4.2" fill="#0000e6"/>
<path d="M477.2 2081.9h14.2M477.2 2109.8h14.2" stroke="#6c6cf2" stroke-width="1.5" fill="none"/>
<path d="M484.3 2081.9V2109.8" stroke="#3636ee" stroke-width="2.5" fill="none"/>
<ellipse cx="484.3" cy="2096" rx="7.6" ry="4.2" fill="#0000e6"/>
<path d="M517.4 2081.9h14.2M517.4 2109.8h14.2" stroke="#6c6cf2" stroke-width="1.5" fill="none"/>
<path d="M524.5 2081.9V2109.8" stroke="#3636ee" stroke-width="2.5" fill="none"/>
<ellipse cx="524.5" cy="2096" rx="7.6" ry="4.2" fill="#0000e6"/>
<path d="M557.6 2075.8h14.2M557.6 2116.7h14.2" stroke="#6c6cf2" stroke-width="1.5" fill="none"/>
<path d="M564.7 2075.8V2116.7" stroke="#3636ee" stroke-width="2.5" fill="none"/>
<ellipse cx="564.7" cy="2096" rx="7.6" ry="4.2" fill="#0000e6"/>
<path d="M597.8 2081.9h14.2M597.8 2106.9h14.2" stroke="#6c6cf2" stroke-width="1.5" fill="none"/>
<path d="M604.9 2081.9V2106.9" stroke="#3636ee" stroke-width="2.5" fill="none"/>
<ellipse cx="604.9" cy="2095" rx="7.6" ry="4.2" fill="#0000e6"/>
<path d="M638 2076.9h14.2M638 2108h14.2" stroke="#6c6cf2" stroke-width="1.5" fill="none"/>
<path d="M645.1 2076.9V2108" stroke="#3636ee" stroke-width="2.5" fill="none"/>
<ellipse cx="645.1" cy="2092.4" rx="7.6" ry="4.2" fill="#0000e6"/>
<path d="M678.2 2076.5h14.2M678.2 2106.4h14.2" stroke="#6c6cf2" stroke-width="1.5" fill="none"/>
<path d="M685.3 2076.5V2106.4" stroke="#3636ee" stroke-width="2.5" fill="none"/>
<ellipse cx="685.3" cy="2091.5" rx="7.6" ry="4.2" fill="#0000e6"/>
<path d="M718.4 2074.3h14.2M718.4 2106.4h14.2" stroke="#6c6cf2" stroke-width="1.5" fill="none"/>
<path d="M725.5 2074.3V2106.4" stroke="#3636ee" stroke-width="2.5" fill="none"/>
<ellipse cx="725.5" cy="2090.4" rx="7.6" ry="4.2" fill="#0000e6"/>
<path d="M758.6 2079.1h14.2M758.6 2101.6h14.2" stroke="#6c6cf2" stroke-width="1.5" fill="none"/>
<path d="M765.7 2079.1V2101.6" stroke="#3636ee" stroke-width="2.5" fill="none"/>
<ellipse cx="765.7" cy="2090.4" rx="7.6" ry="4.2" fill="#0000e6"/>
<path d="M798.8 2079.1h14.2M798.8 2101.6h14.2" stroke="#6c6cf2" stroke-width="1.5" fill="none"/>
<path d="M805.9 2079.1V2101.6" stroke="#3636ee" stroke-width="2.5" fill="none"/>
<ellipse cx="805.9" cy="2090.4" rx="7.6" ry="4.2" fill="#0000e6"/>
<path d="M839 2052.9h14.2M839 2122.2h14.2" stroke="#6c6cf2" stroke-width="1.5" fill="none"/>
<path d="M846.1 2052.9V2122.2" stroke="#3636ee" stroke-width="2.5" fill="none"/>
<ellipse cx="846.1" cy="2087.4" rx="7.6" ry="4.2" fill="#0000e6"/>
<path d="M879.2 2042.4h14.2M879.2 2116.6h14.2" stroke="#6c6cf2" stroke-width="1.5" fill="none"/>
<path d="M886.3 2042.4V2116.6" stroke="#3636ee" stroke-width="2.5" fill="none"/>
<ellipse cx="886.3" cy="2079.1" rx="7.6" ry="4.2" fill="#0000e6"/>
<path d="M919.4 2055.5h14.2M919.4 2102.3h14.2" stroke="#6c6cf2" stroke-width="1.5" fill="none"/>
<path d="M926.5 2055.5V2102.3" stroke="#3636ee" stroke-width="2.5" fill="none"/>
<ellipse cx="926.5" cy="2079.1" rx="7.6" ry="4.2" fill="#0000e6"/>
<path d="M959.6 2055.5h14.2M959.6 2101.6h14.2" stroke="#6c6cf2" stroke-width="1.5" fill="none"/>
<path d="M966.7 2055.5V2101.6" stroke="#3636ee" stroke-width="2.5" fill="none"/>
<ellipse cx="966.7" cy="2078.4" rx="7.6" ry="4.2" fill="#0000e6"/>
<path d="M999.8 2037.2h14.2M999.8 2105.3h14.2" stroke="#6c6cf2" stroke-width="1.5" fill="none"/>
<path d="M1006.9 2037.2V2105.3" stroke="#3636ee" stroke-width="2.5" fill="none"/>
<ellipse cx="1006.9" cy="2070.9" rx="7.6" ry="4.2" fill="#0000e6"/>
<path d="M1040 2039.4h14.2M1040 2097.8h14.2" stroke="#6c6cf2" stroke-width="1.5" fill="none"/>
<path d="M1047.1 2039.4V2097.8" stroke="#3636ee" stroke-width="2.5" fill="none"/>
<ellipse cx="1047.1" cy="2069" rx="7.6" ry="4.2" fill="#0000e6"/>
<path d="M1080.2 2052.2h14.2M1080.2 2075h14.2" stroke="#6c6cf2" stroke-width="1.5" fill="none"/>
<path d="M1087.3 2052.2V2075" stroke="#3636ee" stroke-width="2.5" fill="none"/>
<ellipse cx="1087.3" cy="2064.2" rx="7.6" ry="4.2" fill="#0000e6"/>
<path d="M1120.4 2001.6h14.2M1120.4 2080.2h14.2" stroke="#6c6cf2" stroke-width="1.5" fill="none"/>
<path d="M1127.5 2001.6V2080.2" stroke="#3636ee" stroke-width="2.5" fill="none"/>
<ellipse cx="1127.5" cy="2040.9" rx="7.6" ry="4.2" fill="#0000e6"/>
<path d="M1160.6 1996h14.2M1160.6 2044.7h14.2" stroke="#6c6cf2" stroke-width="1.5" fill="none"/>
<path d="M1167.7 1996V2044.7" stroke="#3636ee" stroke-width="2.5" fill="none"/>
<ellipse cx="1167.7" cy="2020.4" rx="7.6" ry="4.2" fill="#0000e6"/>
<path d="M1200.8 1991.2h14.2M1200.8 2045.4h14.2" stroke="#6c6cf2" stroke-width="1.5" fill="none"/>
<path d="M1207.9 1991.2V2045.4" stroke="#3636ee" stroke-width="2.5" fill="none"/>
<ellipse cx="1207.9" cy="2018.5" rx="7.6" ry="4.2" fill="#0000e6"/>
<path d="M1241 1990.5h14.2M1241 2039.3h14.2" stroke="#6c6cf2" stroke-width="1.5" fill="none"/>
<path d="M1248.1 1990.5V2039.3" stroke="#3636ee" stroke-width="2.5" fill="none"/>
<ellipse cx="1248.1" cy="2014.8" rx="7.6" ry="4.2" fill="#0000e6"/>
<path d="M1281.2 1993.3h14.2M1281.2 2022.5h14.2" stroke="#6c6cf2" stroke-width="1.5" fill="none"/>
<path d="M1288.3 1993.3V2022.5" stroke="#3636ee" stroke-width="2.5" fill="none"/>
<ellipse cx="1288.3" cy="2007.5" rx="7.6" ry="4.2" fill="#0000e6"/>
<path d="M1321.4 1993.3h14.2M1321.4 2022.5h14.2" stroke="#6c6cf2" stroke-width="1.5" fill="none"/>
<path d="M1328.5 1993.3V2022.5" stroke="#3636ee" stroke-width="2.5" fill="none"/>
<ellipse cx="1328.5" cy="2007.5" rx="7.6" ry="4.2" fill="#0000e6"/>
<path d="M1361.6 1973.1h14.2M1361.6 1998.9h14.2" stroke="#6c6cf2" stroke-width="1.5" fill="none"/>
<path d="M1368.7 1973.1V1998.9" stroke="#3636ee" stroke-width="2.5" fill="none"/>
<ellipse cx="1368.7" cy="1985.8" rx="7.6" ry="4.2" fill="#0000e6"/>
<path d="M1401.8 1951h14.2M1401.8 1977.9h14.2" stroke="#6c6cf2" stroke-width="1.5" fill="none"/>
<path d="M1408.9 1951V1977.9" stroke="#3636ee" stroke-width="2.5" fill="none"/>
<ellipse cx="1408.9" cy="1964.5" rx="7.6" ry="4.2" fill="#0000e6"/>
<path d="M1442 1952.5h14.2M1442 1974.9h14.2" stroke="#6c6cf2" stroke-width="1.5" fill="none"/>
<path d="M1449.1 1952.5V1974.9" stroke="#3636ee" stroke-width="2.5" fill="none"/>
<ellipse cx="1449.1" cy="1963.3" rx="7.6" ry="4.2" fill="#0000e6"/>
<path d="M1482.2 1952.5h14.2M1482.2 1974.9h14.2" stroke="#6c6cf2" stroke-width="1.5" fill="none"/>
<path d="M1489.3 1952.5V1974.9" stroke="#3636ee" stroke-width="2.5" fill="none"/>
<ellipse cx="1489.3" cy="1963.3" rx="7.6" ry="4.2" fill="#0000e6"/>
<path d="M1522.4 1937.5h14.2M1522.4 1988h14.2" stroke="#6c6cf2" stroke-width="1.5" fill="none"/>
<path d="M1529.5 1937.5V1988" stroke="#3636ee" stroke-width="2.5" fill="none"/>
<ellipse cx="1529.5" cy="1962.2" rx="7.6" ry="4.2" fill="#0000e6"/>
<path d="M1562.6 1943.1h14.2M1562.6 1974.9h14.2" stroke="#6c6cf2" stroke-width="1.5" fill="none"/>
<path d="M1569.7 1943.1V1974.9" stroke="#3636ee" stroke-width="2.5" fill="none"/>
<ellipse cx="1569.7" cy="1958.8" rx="7.6" ry="4.2" fill="#0000e6"/>
<path d="M1602.8 1931.2h14.2M1602.8 1976.4h14.2" stroke="#6c6cf2" stroke-width="1.5" fill="none"/>
<path d="M1609.9 1931.2V1976.4" stroke="#3636ee" stroke-width="2.5" fill="none"/>
<ellipse cx="1609.9" cy="1954" rx="7.6" ry="4.2" fill="#0000e6"/>
<path d="M1643 1934.5h14.2M1643 1958.8h14.2" stroke="#6c6cf2" stroke-width="1.5" fill="none"/>
<path d="M1650.1 1934.5V1958.8" stroke="#3636ee" stroke-width="2.5" fill="none"/>
<ellipse cx="1650.1" cy="1946.5" rx="7.6" ry="4.2" fill="#0000e6"/>
<path d="M1683.2 1934.5h14.2M1683.2 1953.6h14.2" stroke="#6c6cf2" stroke-width="1.5" fill="none"/>
<path d="M1690.3 1934.5V1953.6" stroke="#3636ee" stroke-width="2.5" fill="none"/>
<ellipse cx="1690.3" cy="1943.9" rx="7.6" ry="4.2" fill="#0000e6"/>
<path d="M1723.4 1934.5h14.2M1723.4 1949.5h14.2" stroke="#6c6cf2" stroke-width="1.5" fill="none"/>
<path d="M1730.5 1934.5V1949.5" stroke="#3636ee" stroke-width="2.5" fill="none"/>
<ellipse cx="1730.5" cy="1942" rx="7.6" ry="4.2" fill="#0000e6"/>
<text class="r" transform="translate(10.81,1728.27) scale(1.1504,1)" font-size="73.42" fill="#4d4d4d">e</text>
<text class="b" transform="translate(62.87,1803.2) scale(0.8342,1)" font-size="38.57" fill="#4d4d4d">25</text>
<text class="b" transform="translate(63.19,1963.5) scale(0.8128,1)" font-size="39.56" fill="#4d4d4d">15</text>
<text class="b" transform="translate(69.68,2117.3) scale(0.8267,1)" font-size="39.14" fill="#4d4d4d">10</text>
<text class="b" transform="translate(52.7,2098.81) rotate(-90) scale(0.7842,1)" font-size="55" fill="#4d4d4d">Distance (Å)</text>
<text class="r" stroke="#4d4d4d" stroke-width="1.1" transform="translate(169.3,2638.28) rotate(-90) scale(0.8701,1)" font-size="34.08" fill="#4d4d4d">Gdown1-331 Gdown1-339</text>
<text class="r" stroke="#4d4d4d" stroke-width="1.1" transform="translate(211.3,2602.85) rotate(-90) scale(0.8701,1)" font-size="34.08" fill="#4d4d4d">Gdown1-50 Gdown1-47</text>
<text class="r" stroke="#4d4d4d" stroke-width="1.1" transform="translate(253.5,2605.15) rotate(-90) scale(0.8701,1)" font-size="34.08" fill="#4d4d4d">Gdown1-83 Gdown1-87</text>
<text class="r" stroke="#4d4d4d" stroke-width="1.1" transform="translate(291.7,2585.72) rotate(-90) scale(0.8701,1)" font-size="34.08" fill="#4d4d4d">Gdown1-83 RPB10-67</text>
<text class="r" stroke="#4d4d4d" stroke-width="1.1" transform="translate(332.1,2588.91) rotate(-90) scale(0.8701,1)" font-size="34.08" fill="#4d4d4d">Gdown1-83 RPB3-155</text>
<text class="r" stroke="#4d4d4d" stroke-width="1.1" transform="translate(375.2,2604.47) rotate(-90) scale(0.8701,1)" font-size="34.08" fill="#4d4d4d">Gdown1-331 RPB2-436</text>
<text class="r" stroke="#4d4d4d" stroke-width="1.1" transform="translate(415.2,2588.91) rotate(-90) scale(0.8701,1)" font-size="34.08" fill="#4d4d4d">Gdown1-71 RPB3-155</text>
<text class="r" stroke="#4d4d4d" stroke-width="1.1" transform="translate(451.5,2634.06) rotate(-90) scale(0.8701,1)" font-size="34.08" fill="#4d4d4d">Gdown1-216 Gdown1-228</text>
<text class="r" stroke="#4d4d4d" stroke-width="1.1" transform="translate(493.8,2600.17) rotate(-90) scale(0.8701,1)" font-size="34.08" fill="#4d4d4d">Gdown1-331 RPB1-213</text>
<text class="r" stroke="#4d4d4d" stroke-width="1.1" transform="translate(533.1,2602.47) rotate(-90) scale(0.8701,1)" font-size="34.08" fill="#4d4d4d">Gdown1-339 RPB1-213</text>
<text class="r" stroke="#4d4d4d" stroke-width="1.1" transform="translate(576.2,2585.41) rotate(-90) scale(0.8701,1)" font-size="34.08" fill="#4d4d4d">Gdown1-228 RPB2-95</text>
<text class="r" stroke="#4d4d4d" stroke-width="1.1" transform="translate(611.7,2634.8) rotate(-90) scale(0.8701,1)" font-size="34.08" fill="#4d4d4d">Gdown1-228 Gdown1-240</text>
<text class="r" stroke="#4d4d4d" stroke-width="1.1" transform="translate(655.5,2599.35) rotate(-90) scale(0.8701,1)" font-size="34.08" fill="#4d4d4d">Gdown1-39 Gdown1-47</text>
<text class="r" stroke="#4d4d4d" stroke-width="1.1" transform="translate(694.6,2632.7) rotate(-90) scale(0.8701,1)" font-size="34.08" fill="#4d4d4d">Gdown1-216 Gdown1-240</text>
<text class="r" stroke="#4d4d4d" stroke-width="1.1" transform="translate(736.8,2595.65) rotate(-90) scale(0.8701,1)" font-size="34.08" fill="#4d4d4d">Gdown1-71 Gdown1-87</text>
<text class="r" stroke="#4d4d4d" stroke-width="1.1" transform="translate(777.6,2600.02) rotate(-90) scale(0.8701,1)" font-size="34.08" fill="#4d4d4d">Gdown1-331 RPB2-421</text>
<text class="r" stroke="#4d4d4d" stroke-width="1.1" transform="translate(818,2600.02) rotate(-90) scale(0.8701,1)" font-size="34.08" fill="#4d4d4d">Gdown1-339 RPB2-421</text>
<text class="r" stroke="#4d4d4d" stroke-width="1.1" transform="translate(859.2,2584.02) rotate(-90) scale(0.8701,1)" font-size="34.08" fill="#4d4d4d">Gdown1-43 RPB10-17</text>
<text class="r" stroke="#4d4d4d" stroke-width="1.1" transform="translate(900.4,2584.02) rotate(-90) scale(0.8701,1)" font-size="34.08" fill="#4d4d4d">Gdown1-39 RPB10-17</text>
<text class="r" stroke="#4d4d4d" stroke-width="1.1" transform="translate(935.9,2602.39) rotate(-90) scale(0.8701,1)" font-size="34.08" fill="#4d4d4d">Gdown1-29 Gdown1-59</text>
<text class="r" stroke="#4d4d4d" stroke-width="1.1" transform="translate(977.1,2618.78) rotate(-90) scale(0.8701,1)" font-size="34.08" fill="#4d4d4d">Gdown1-240 Gdown1-71</text>
<text class="r" stroke="#4d4d4d" stroke-width="1.1" transform="translate(1018.3,2582.02) rotate(-90) scale(0.8701,1)" font-size="34.08" fill="#4d4d4d">Gdown1-282 RPB2-87</text>
<text class="r" stroke="#4d4d4d" stroke-width="1.1" transform="translate(1059.5,2632.5) rotate(-90) scale(0.8701,1)" font-size="34.08" fill="#4d4d4d">Gdown1-267 Gdown1-250</text>
<text class="r" stroke="#4d4d4d" stroke-width="1.1" transform="translate(1100.6,2600.17) rotate(-90) scale(0.8701,1)" font-size="34.08" fill="#4d4d4d">Gdown1-339 RPB2-413</text>
<text class="r" stroke="#4d4d4d" stroke-width="1.1" transform="translate(1135.1,2620.13) rotate(-90) scale(0.8701,1)" font-size="34.08" fill="#4d4d4d">Gdown1-240 Gdown1-83</text>
<text class="r" stroke="#4d4d4d" stroke-width="1.1" transform="translate(1177.4,2600.55) rotate(-90) scale(0.8701,1)" font-size="34.08" fill="#4d4d4d">Gdown1-326 RPB2-427</text>
<text class="r" stroke="#4d4d4d" stroke-width="1.1" transform="translate(1216.7,2633.76) rotate(-90) scale(0.8701,1)" font-size="34.08" fill="#4d4d4d">Gdown1-314 Gdown1-228</text>
<text class="r" stroke="#4d4d4d" stroke-width="1.1" transform="translate(1257.8,2600.92) rotate(-90) scale(0.8701,1)" font-size="34.08" fill="#4d4d4d">Gdown1-326 RPB2-130</text>
<text class="r" stroke="#4d4d4d" stroke-width="1.1" transform="translate(1300.9,2602.32) rotate(-90) scale(0.8701,1)" font-size="34.08" fill="#4d4d4d">Gdown1-314 RPB2-151</text>
<text class="r" stroke="#4d4d4d" stroke-width="1.1" transform="translate(1339.5,2602.32) rotate(-90) scale(0.8701,1)" font-size="34.08" fill="#4d4d4d">Gdown1-317 RPB2-151</text>
<text class="r" stroke="#4d4d4d" stroke-width="1.1" transform="translate(1382.5,2601.45) rotate(-90) scale(0.8701,1)" font-size="34.08" fill="#4d4d4d">Gdown1-339 RPB2-457</text>
<text class="r" stroke="#4d4d4d" stroke-width="1.1" transform="translate(1420,2601.92) rotate(-90) scale(0.8701,1)" font-size="34.08" fill="#4d4d4d">Gdown1-331 RPB1-331</text>
<text class="r" stroke="#4d4d4d" stroke-width="1.1" transform="translate(1460.4,2599.65) rotate(-90) scale(0.8701,1)" font-size="34.08" fill="#4d4d4d">Gdown1-331 RPB2-427</text>
<text class="r" stroke="#4d4d4d" stroke-width="1.1" transform="translate(1501.2,2603.45) rotate(-90) scale(0.8701,1)" font-size="34.08" fill="#4d4d4d">Gdown1-339 RPB2-427</text>
<text class="r" stroke="#4d4d4d" stroke-width="1.1" transform="translate(1542.7,2604.54) rotate(-90) scale(0.8701,1)" font-size="34.08" fill="#4d4d4d">Gdown1-282 RPB2-345</text>
<text class="r" stroke="#4d4d4d" stroke-width="1.1" transform="translate(1583.9,2589.51) rotate(-90) scale(0.8701,1)" font-size="34.08" fill="#4d4d4d">Gdown1-240 RPB2-95</text>
<text class="r" stroke="#4d4d4d" stroke-width="1.1" transform="translate(1625.8,2601.45) rotate(-90) scale(0.8701,1)" font-size="34.08" fill="#4d4d4d">Gdown1-227 RPB10-67</text>
<text class="r" stroke="#4d4d4d" stroke-width="1.1" transform="translate(1667,2602.54) rotate(-90) scale(0.8701,1)" font-size="34.08" fill="#4d4d4d">Gdown1-216 RPB3-155</text>
<text class="r" stroke="#4d4d4d" stroke-width="1.1" transform="translate(1708.9,2630.2) rotate(-90) scale(0.8701,1)" font-size="34.08" fill="#4d4d4d">Gdown1-216 Gdown1-314</text>
<text class="r" stroke="#4d4d4d" stroke-width="1.1" transform="translate(1755.7,2602.54) rotate(-90) scale(0.8701,1)" font-size="34.08" fill="#4d4d4d">Gdown1-331 RPB2-445</text>
</g>
</svg>
</body></html>
